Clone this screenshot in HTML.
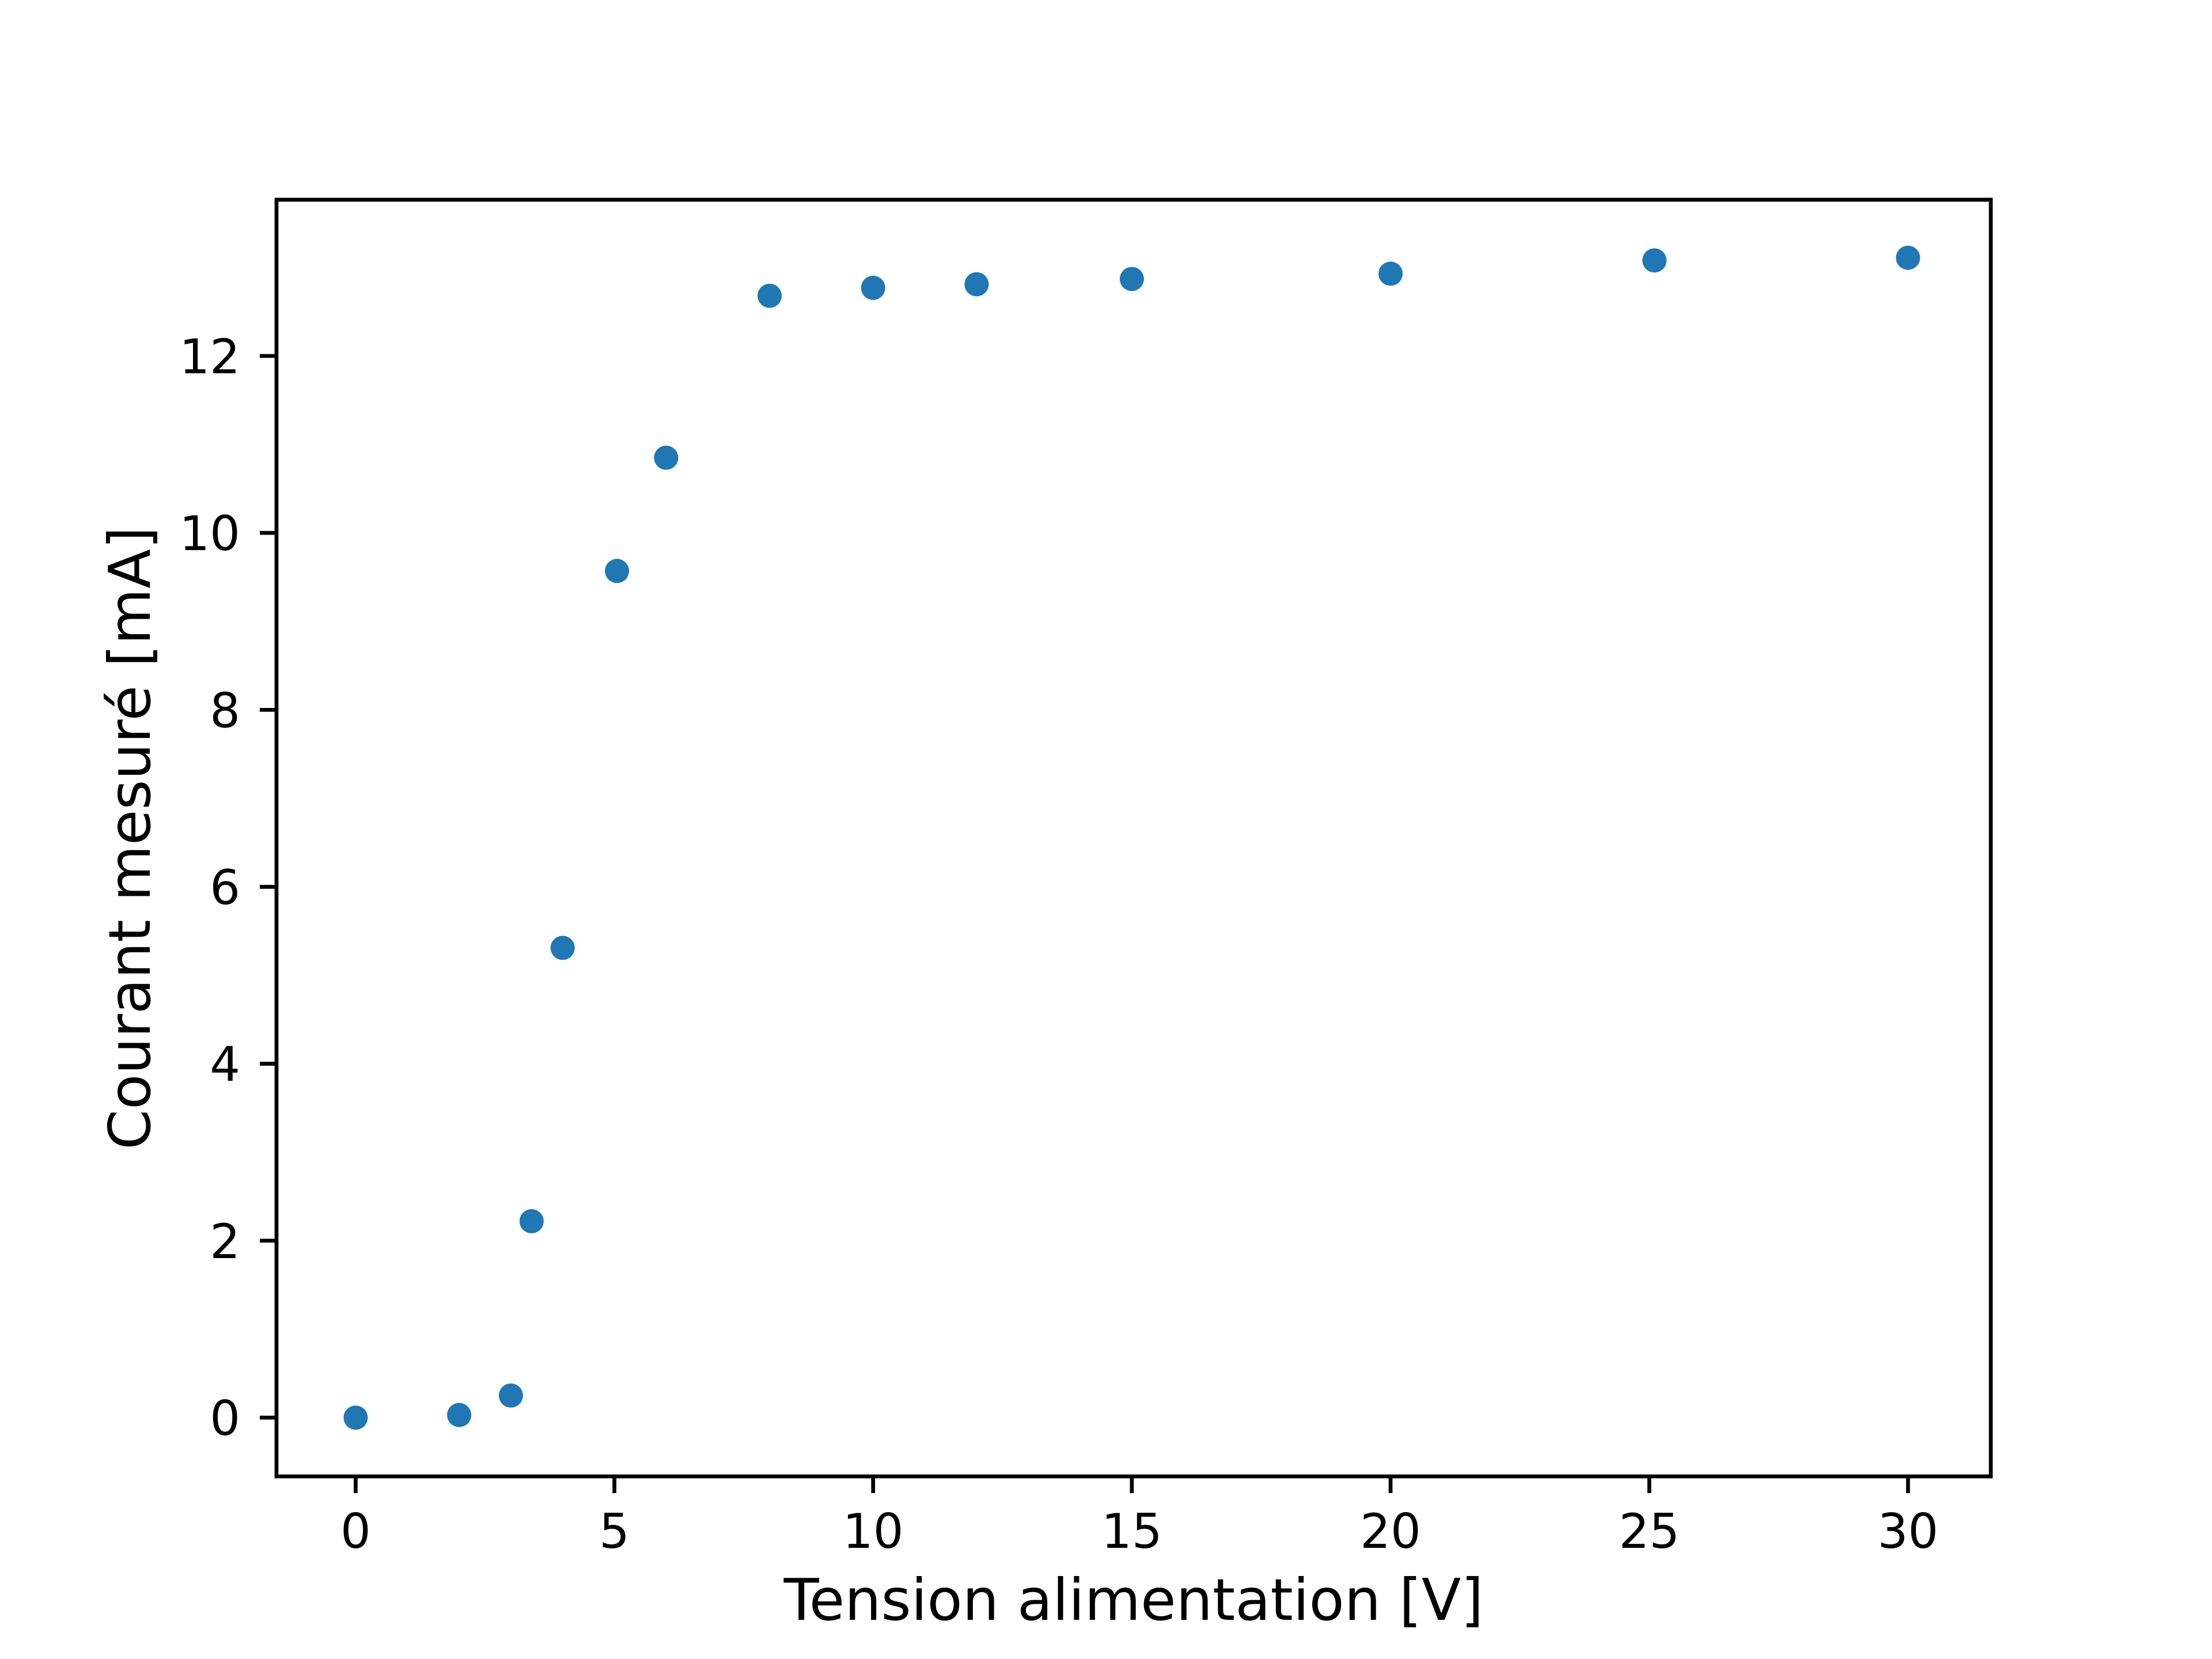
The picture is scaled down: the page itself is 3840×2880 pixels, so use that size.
<!DOCTYPE html>
<html><head><meta charset="utf-8"><style>html,body{margin:0;padding:0;background:#fff}svg{display:block}</style></head>
<body>
<svg id="chart" width="3840" height="2880" viewBox="0 0 3840 2880" xmlns="http://www.w3.org/2000/svg" font-family="'DejaVu Sans','Liberation Sans',sans-serif">
<rect width="3840" height="2880" fill="#fff"/>
<g id="plot"></g>
<text x="1968" y="2812" font-size="100" text-anchor="middle">Tension alimentation [V]</text>
<text transform="translate(260,1455) rotate(-90)" font-size="100" text-anchor="middle">Courant mesuré [mA]</text>
</svg>
<script>
const voltages = [0, 2, 3, 3.4, 4, 5.05, 6, 8, 10, 12, 15, 20, 25.1, 30];
const currents = [0, 0.03, 0.25, 2.22, 5.31, 9.57, 10.85, 12.68, 12.77, 12.81, 12.87, 12.93, 13.08, 13.11];
const xTicks = [0, 5, 10, 15, 20, 25, 30];
const yTicks = [0, 2, 4, 6, 8, 10, 12];

const L = 480, R = 3456, T = 346.7, B = 2563;
const xMin = -1.53, xMax = 31.6, yMin = -0.664, yMax = 13.766;
const sx = v => L + (v - xMin) / (xMax - xMin) * (R - L);
const sy = v => B - (v - yMin) / (yMax - yMin) * (B - T);
const NS = 'http://www.w3.org/2000/svg';
const g = document.getElementById('plot');
function mk(tag, attrs) { const e = document.createElementNS(NS, tag); for (const k in attrs) e.setAttribute(k, attrs[k]); g.appendChild(e); return e; }

voltages.forEach((v, i) => {
  const c = mk('circle', {cx: sx(v), cy: sy(currents[i]), r: 21, fill: '#1f77b4'});
  
  
});

xTicks.forEach(t => {
  const x = sx(t);
  const l = mk('line', {x1: x, x2: x, y1: B, y2: B + 29, stroke: '#000', 'stroke-width': 6.7});
  
  
  const tx = mk('text', {x: x, y: 2687, 'font-size': 83, 'text-anchor': 'middle'});
  tx.textContent = String(t);
  
  
});
yTicks.forEach(t => {
  const y = sy(t);
  const l = mk('line', {x1: L - 29, x2: L, y1: y, y2: y, stroke: '#000', 'stroke-width': 6.7});
  
  
  const tx = mk('text', {x: 417, y: y + 30, 'font-size': 83, 'text-anchor': 'end'});
  tx.textContent = String(t);
  
  
});
const frame = mk('rect', {x: L, y: T, width: R - L, height: B - T, fill: 'none', stroke: '#000', 'stroke-width': 6.7});


</script>
</body></html>
